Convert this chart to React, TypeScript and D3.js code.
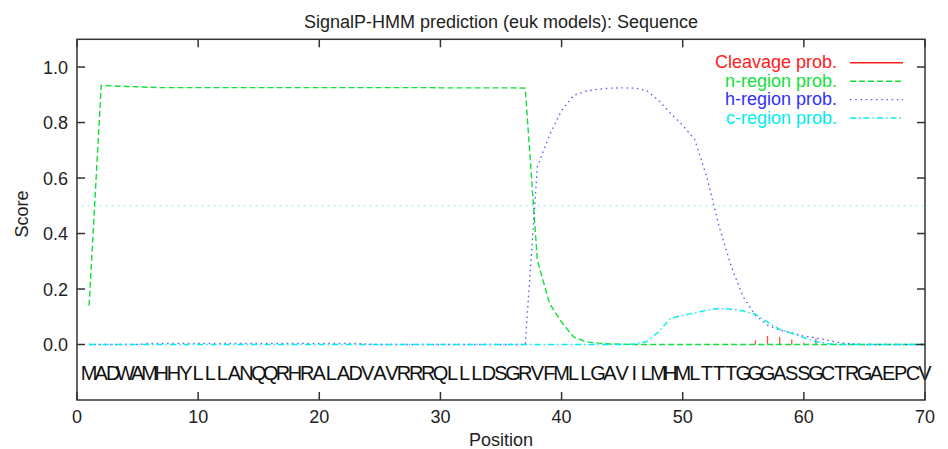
import React from 'react'
import * as d3 from 'd3'

// sequence, one residue per position 1..70
const sequence = 'MADWAMHHYLLLANQQRHRALADVAVRRRQLLLDSGRVFMLLGAVILMHMLTTTGGGASSGCTRGAEPCV'.split('')

const nRegion = [
  0.14, 0.934, 0.932, 0.93, 0.929, 0.927, 0.926, 0.926, 0.926, 0.926,
  0.926, 0.926, 0.926, 0.926, 0.926, 0.926, 0.926, 0.926, 0.926, 0.926,
  0.926, 0.926, 0.926, 0.926, 0.926, 0.926, 0.926, 0.926, 0.926, 0.925,
  0.925, 0.925, 0.925, 0.925, 0.925, 0.925, 0.924, 0.304, 0.149, 0.08,
  0.027, 0.01, 0.005, 0.002, 0.001, 0, 0, 0, 0, 0,
  0, 0, 0, 0, 0, 0, 0, 0, 0, 0,
  0, 0, 0, 0, 0, 0, 0, 0, 0, 0,
]

const hRegion = [
  0, 0, 0, 0, 0, 0.004, 0.004, 0.004, 0.004, 0.004,
  0.004, 0.004, 0.004, 0.004, 0.004, 0.004, 0.004, 0.004, 0.004, 0.004,
  0.004, 0.004, 0.004, 0.001, 0, 0, 0, 0, 0, 0,
  0, 0, 0, 0, 0, 0, 0, 0.64, 0.754, 0.844,
  0.898, 0.913, 0.92, 0.924, 0.925, 0.924, 0.916, 0.88, 0.833, 0.79,
  0.738, 0.602, 0.426, 0.282, 0.171, 0.105, 0.07, 0.052, 0.042, 0.03,
  0.024, 0.015, 0.006, 0.002, 0, 0, 0, 0, 0, 0,
]

const cRegion = [
  0, 0, 0, 0, 0, 0, 0, 0, 0, 0,
  0, 0, 0, 0, 0, 0, 0, 0, 0, 0,
  0, 0, 0, 0, 0, 0, 0, 0, 0, 0,
  0, 0, 0, 0, 0, 0, 0, 0, 0, 0,
  0, 0, 0, 0, 0, 0.002, 0.01, 0.045, 0.095, 0.105,
  0.114, 0.124, 0.13, 0.127, 0.121, 0.109, 0.081, 0.055, 0.04, 0.025,
  0.01, 0.003, 0, 0, 0, 0, 0, 0, 0, 0,
]

// cleavage probability, only the non-zero positions
const cleavagePos = [23, 54, 56, 57, 58, 59, 60, 61]
const cleavageVal = [0.002, 0.003, 0.015, 0.031, 0.027, 0.018, 0.007, 0.022]

const threshold = 0.5
const xTicks = [0, 10, 20, 30, 40, 50, 60, 70]
const yTicks = [0, 0.2, 0.4, 0.6, 0.8, 1.0]

const title = 'SignalP-HMM prediction (euk models): Sequence'
const legendLabels = ['Cleavage prob.', 'n-region prob.', 'h-region prob.', 'c-region prob.']

const width = 948
const height = 449
const margin = { top: 39.3, right: 23, bottom: 49, left: 77 }
const font = '"Liberation Sans", Arial, Helvetica, sans-serif'
const ink = '#222'

const colors = { red: '#ff2020', green: '#12e03a', blue: '#3030ff', cyan: '#00eeee' }

const App = () => {
  const x = d3.scaleLinear().domain([0, 70]).range([margin.left, width - margin.right])
  const y = d3.scaleLinear().domain([-0.2, 1.1]).range([height - margin.bottom, margin.top])
  const line = d3.line<number>()
    .x((_, i) => x(i + 1))
    .y(d => y(d))

  const fmt = d3.format('.1f')
  const tick = 8
  const x0 = x(0), x1 = x(70), y0 = y(-0.2), y1 = y(1.1)

  const series = [
    { values: nRegion, color: colors.green, dash: '6,3', opacity: 1 },
    { values: hRegion, color: colors.blue, dash: '1.6,3.6', opacity: 0.75 },
    { values: cRegion, color: colors.cyan, dash: '6,3,1.5,3', opacity: 1 },
  ]

  const legendStyles = [
    { color: colors.red, dash: undefined, opacity: 1 },
    { color: colors.green, dash: '6,3', opacity: 1 },
    { color: colors.blue, dash: '1.6,3.6', opacity: 0.75 },
    { color: colors.cyan, dash: '6,3,1.5,3', opacity: 1 },
  ]

  return (
    <div>
      <style>{'body{margin:0}'}</style>
      <svg width={width} height={height} style={{ display: 'block', background: '#fff' }}>
        {/* 0.5 reference line */}
        <line x1={x(0.4)} x2={x(70)} y1={y(threshold)} y2={y(threshold)}
          stroke="#9ef2f2" strokeWidth={1.4} strokeDasharray="1.5,4.5" />

        {/* cleavage impulses */}
        {cleavagePos.map((p, i) => (
          <line key={p} x1={x(p)} x2={x(p)} y1={y(0)} y2={y(cleavageVal[i])}
            stroke={colors.red} strokeWidth={1.3} opacity={0.8} />
        ))}

        {series.map((s, i) => (
          <path key={i} d={line(s.values) ?? ''} fill="none" stroke={s.color}
            strokeWidth={1.4} strokeDasharray={s.dash} opacity={s.opacity} />
        ))}

        {/* sequence */}
        {sequence.map((c, i) => (
          <text key={i} x={x(i + 1)} y={380} textAnchor="middle" fontFamily={font}
            fontSize={20} fill="#111">{c}</text>
        ))}

        {/* frame */}
        <rect x={x0} y={y1} width={x1 - x0} height={y0 - y1} fill="none" stroke="#333" strokeWidth={1.5} />

        {xTicks.map(t => (
          <g key={t}>
            <line x1={x(t)} x2={x(t)} y1={y0} y2={y0 - tick} stroke="#333" strokeWidth={1.5} />
            <line x1={x(t)} x2={x(t)} y1={y1} y2={y1 + tick} stroke="#333" strokeWidth={1.5} />
            <text x={x(t)} y={423} textAnchor="middle" fontFamily={font} fontSize={18} fill={ink}>{t}</text>
          </g>
        ))}

        {yTicks.map(t => (
          <g key={t}>
            <line x1={x0} x2={x0 + tick} y1={y(t)} y2={y(t)} stroke="#333" strokeWidth={1.5} />
            <line x1={x1} x2={x1 - tick} y1={y(t)} y2={y(t)} stroke="#333" strokeWidth={1.5} />
            <text x={x0 - 9} y={y(t) + 6.5} textAnchor="end" fontFamily={font} fontSize={18} fill={ink}>{fmt(t)}</text>
          </g>
        ))}

        <text x={(x0 + x1) / 2} y={28} textAnchor="middle" fontFamily={font} fontSize={18} fill={ink}>{title}</text>
        <text x={(x0 + x1) / 2} y={446} textAnchor="middle" fontFamily={font} fontSize={18} fill={ink}>Position</text>
        <text transform={`translate(28,214) rotate(-90)`} textAnchor="middle" fontFamily={font} fontSize={18} fill={ink}>Score</text>

        {/* legend */}
        {legendLabels.map((lab, i) => {
          const by = 68.3 + i * 18.4
          const st = legendStyles[i]
          return (
            <g key={lab}>
              <text x={837} y={by} textAnchor="end" fontFamily={font} fontSize={18} fill={st.color}>{lab}</text>
              <line x1={850} x2={903} y1={by - 5.5} y2={by - 5.5} stroke={st.color}
                strokeWidth={1.4} strokeDasharray={st.dash} opacity={st.opacity} />
            </g>
          )
        })}
      </svg>
    </div>
  )
}

export default App
